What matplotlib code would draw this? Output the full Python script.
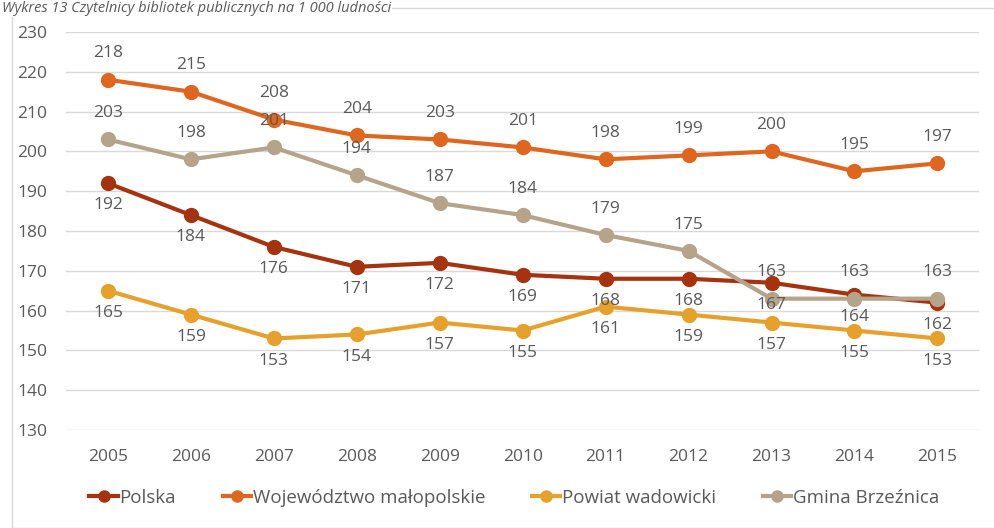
import matplotlib
matplotlib.use("Agg")
import matplotlib.pyplot as plt
from matplotlib.patches import Rectangle
from matplotlib.lines import Line2D

years = ["2005", "2006", "2007", "2008", "2009", "2010", "2011", "2012", "2013", "2014", "2015"]
polska = [192, 184, 176, 171, 172, 169, 168, 168, 167, 164, 162]
wojewodztwo = [218, 215, 208, 204, 203, 201, 198, 199, 200, 195, 197]
powiat = [165, 159, 153, 154, 157, 155, 161, 159, 157, 155, 153]
gmina = [203, 198, 201, 194, 187, 184, 179, 175, 163, 163, 163]

series = [
    ("Polska", polska, "#A5330F", "below"),
    ("Województwo małopolskie", wojewodztwo, "#DE661E", "above"),
    ("Powiat wadowicki", powiat, "#E6A12C", "below"),
    ("Gmina Brzeźnica", gmina, "#B5A38A", "above"),
]

plt.rcParams['font.family'] = ['Open Sans', 'DejaVu Sans']
txt = "#595959"

fig = plt.figure(figsize=(9.95, 5.28), dpi=100)
ax = fig.add_axes([0.0668, 0.1856, 0.917, 0.7538])

fig.patches.append(Rectangle((12 / 995, 0), 1, 1 - 8 / 528, transform=fig.transFigure,
                             fill=False, edgecolor="#D9D9D9", linewidth=1))
fig.text(0.002, 0.998, "Wykres 13 Czytelnicy bibliotek publicznych na 1 000 ludności",
         fontsize=10.5, style='italic', color=txt, ha='left', va='top',
         bbox=dict(facecolor='white', edgecolor='none', pad=0.5), zorder=10)

x = list(range(len(years)))
for name, vals, col, pos in series:
    ax.plot(x, vals, color=col, lw=3, marker='o', ms=10, label=name,
            solid_capstyle='round', zorder=3)
    for xi, v in zip(x, vals):
        if pos == "above":
            ax.annotate(str(v), (xi, v), xytext=(0, 19), textcoords='offset points',
                        ha='center', va='center', fontsize=12.5, color=txt, zorder=5)
        else:
            ax.annotate(str(v), (xi, v), xytext=(0, -16), textcoords='offset points',
                        ha='center', va='center', fontsize=12.5, color=txt, zorder=5)

ax.set_xlim(-0.5, 10.5)
ax.set_ylim(130, 230)
ax.set_yticks(range(130, 231, 10))
ax.set_xticks(x)
ax.set_xticklabels(years)
ax.grid(axis='y', color="#D9D9D9", lw=1)
ax.set_axisbelow(True)
for s in ax.spines.values():
    s.set_visible(False)
ax.tick_params(length=0, labelsize=12.5, labelcolor=txt)
ax.tick_params(axis='x', pad=14)
ax.tick_params(axis='y', pad=14)

handles = [Line2D([0], [0], color=c, lw=3, marker='o', ms=8) for _, _, c, _ in series]
fig.legend(handles, [s[0] for s in series], loc='center', bbox_to_anchor=(0.517, 1 - 498 / 528),
           ncol=4, frameon=False, fontsize=13.5, labelcolor=txt, handlelength=1.5,
           handletextpad=0.1, columnspacing=2.5)

fig.savefig("out.png", dpi=100)
